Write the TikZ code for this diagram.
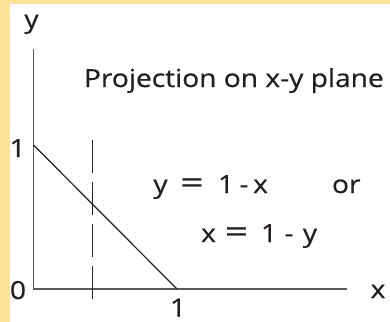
\documentclass[tikz,border=0pt]{standalone}
\usepackage{fontspec}
\setmainfont{Open Sans}[FakeBold=0.5]
\definecolor{bordery}{RGB}{255,226,152}
\definecolor{ink}{RGB}{35,31,32}
\definecolor{axisgray}{RGB}{90,90,90}
% token box: width given in output pixels (text is x-scaled by 1.13)
\newcommand{\tk}[2]{\makebox[\dimexpr #1bp*100/113\relax][c]{#2}}
\newcommand{\weq}{\scalebox{1.45}[1.2]{=}}
\begin{document}
\begin{tikzpicture}[x=1bp,y=-1bp,
  lbl/.style={inner sep=0pt,outer sep=0pt,text=ink,xscale=1.13,font=\fontsize{25}{30}\selectfont},
  axisline/.style={draw=axisgray,line width=1.6bp},
  graphline/.style={draw=ink,line width=1.2bp},
  dashline/.style={draw=ink,line width=1.6bp,dash pattern=on 33bp off 9bp}]
\fill[bordery] (0,0) rectangle (390,322);
\fill[white] (10,4) rectangle (390,322);
\useasboundingbox (0,0) rectangle (390,322);
% axes
\coordinate (ytop) at (33.5,49);
\coordinate (orig) at (33.5,289);
\coordinate (xend) at (347,289);
\coordinate (y1) at (33.5,145);
\coordinate (x1) at (177,289);
\coordinate (dtop) at (92.5,140);
\coordinate (dbot) at (92.5,300);
\draw[axisline] (ytop) -- (orig) -- (xend);
\draw[graphline] (y1) -- (x1);
\draw[dashline] (dtop) -- (dbot);
% labels
\node[lbl,anchor=base] (ylab) at (31.5,28) {y};
\node[lbl,anchor=base] (xlab) at (378,298) {x};
\node[lbl,anchor=base] (one) at (17.5,157) {1};
\node[lbl,anchor=base] (zero) at (18,299) {0};
\node[lbl,anchor=base] (onex) at (178,316.5) {1};
\node[lbl,anchor=base west] (title) at (84,87) {Projection on x-y plane};
\node[lbl,anchor=base west] (eq1) at (153,193)
  {\tk{15}{y}\tk{48}{\weq}\tk{20}{1}\tk{16}{-}\tk{17}{x}};
\node[lbl,anchor=base west] (orlab) at (332,193) {or};
\node[lbl,anchor=base west] (eq2) at (201,242)
  {\tk{15}{x}\tk{41}{\weq}\tk{24}{1}\tk{16}{-}\tk{26}{y}};
\end{tikzpicture}
\end{document}
